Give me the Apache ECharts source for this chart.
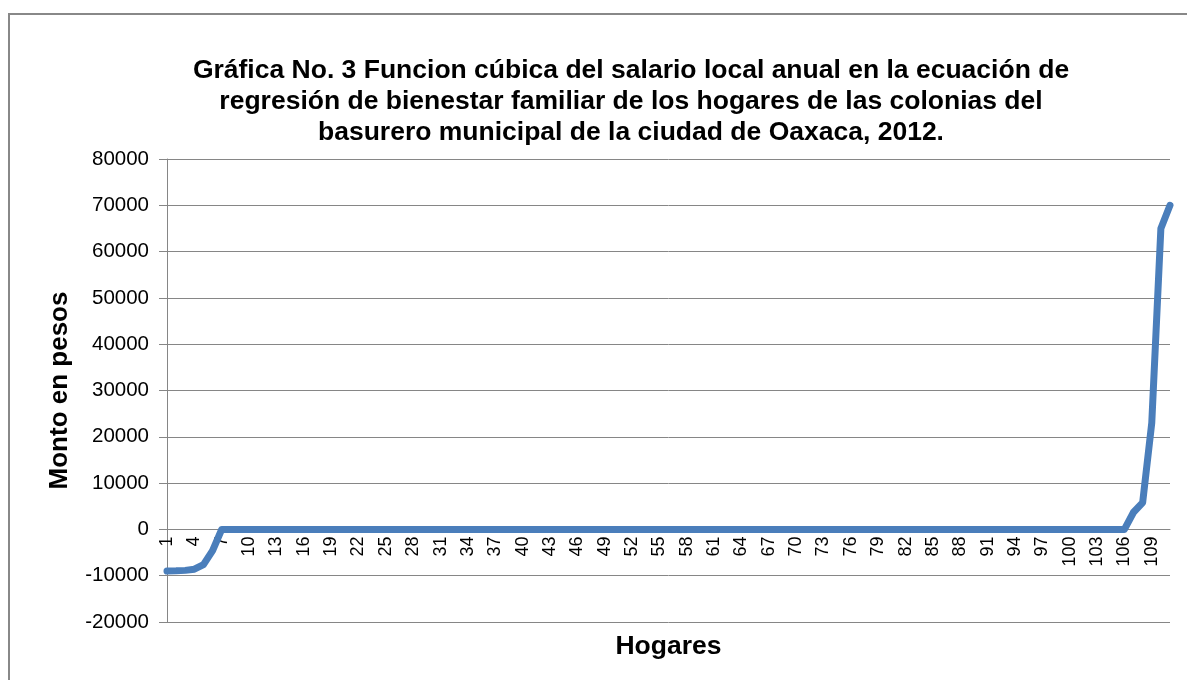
<!DOCTYPE html>
<html><head><meta charset="utf-8">
<script src="https://cdn.jsdelivr.net/npm/echarts@6/dist/echarts.min.js"></script>
<style>html,body{margin:0;padding:0;background:#fff}#c{width:1187px;height:680px}</style>
</head><body><div id="c"></div>
<script>
const titleText = "Gráfica No. 3 Funcion cúbica del salario local anual en la ecuación de\nregresión de bienestar familiar de los hogares de las colonias del\nbasurero municipal de la ciudad de Oaxaca, 2012.";
const yAxisName = "Monto en pesos";
const xAxisName = "Hogares";
const categories = [];
for (let i = 1; i <= 111; i++) categories.push(String(i));
const startValues = [-9000, -8950, -8850, -8600, -7600, -4600, 0];
const endValues = [0, 3700, 5800, 23000, 65000, 70000];
const middleValues = new Array(111 - startValues.length - endValues.length).fill(0);
const values = startValues.concat(middleValues, endValues);

const chart = echarts.init(document.getElementById('c'));
chart.setOption({
  animation: false,
  backgroundColor: '#fff',
  graphic: [{type:'rect', shape:{x:9, y:14, width:1200, height:700}, style:{fill:'none', stroke:'#888', lineWidth:2}}],
  title: {text: titleText, left: 626, top: 50, textAlign: 'center',
    textStyle: {fontFamily: 'Liberation Sans', fontWeight: 'bold', fontSize: 26.5, lineHeight: 31, color: '#000'}},
  grid: {left: 167, right: 17, top: 159, bottom: 58, containLabel: false, outerBoundsMode: 'none'},
  xAxis: {type: 'category', data: categories, boundaryGap: false,
    position: 'bottom', offset: -92.6,
    name: xAxisName, nameLocation: 'middle', nameGap: 104,
    nameTextStyle: {fontFamily: 'Liberation Sans', fontWeight: 'bold', fontSize: 26.5, color: '#000'},
    axisLine: {onZero: false, lineStyle: {color: '#868686', width: 1}},
    axisTick: {show: false},
    axisLabel: {interval: 2, rotate: 90, fontFamily: 'Liberation Sans', fontSize: 18, color: '#000', margin: 7}},
  yAxis: {type: 'value', min: -20000, max: 80000, interval: 10000,
    name: yAxisName, nameLocation: 'middle', nameGap: 94,
    nameTextStyle: {fontFamily: 'Liberation Sans', fontWeight: 'bold', fontSize: 26, color: '#000'},
    axisLine: {show: true, lineStyle: {color: '#868686'}},
    axisTick: {show: true, length: 8, lineStyle: {color: '#868686'}},
    splitLine: {lineStyle: {color: '#868686', width: 1}},
    axisLabel: {fontFamily: 'Liberation Sans', fontSize: 20.5, color: '#000', margin: 18,
      formatter: function (v) { return String(v); }}},
  series: [{type: 'line', data: values, symbol: 'none',
    lineStyle: {color: '#4a7ebb', width: 7, cap: 'round', join: 'round'}}]
});
</script></body></html>
